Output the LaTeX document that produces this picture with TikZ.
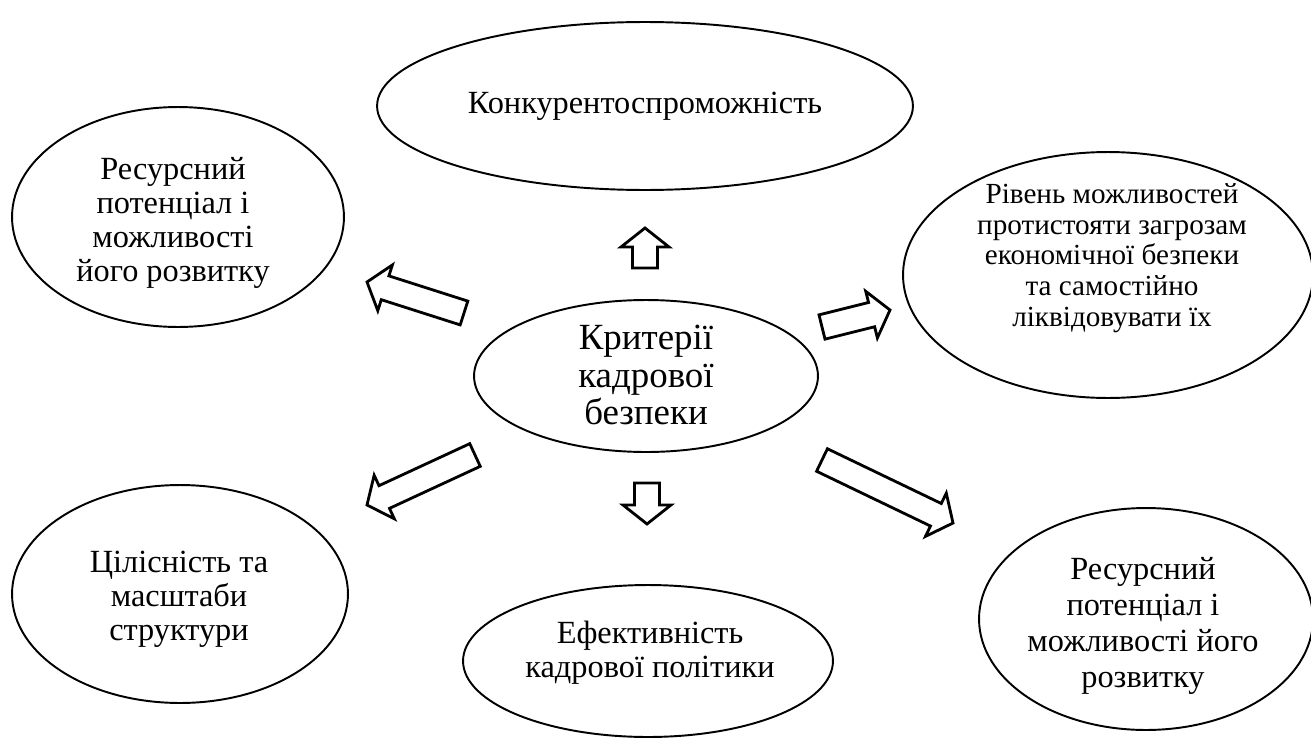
\documentclass[tikz,border=0pt]{standalone}
\usepackage{fontspec}
\setmainfont{Liberation Serif}
\usetikzlibrary{shapes.geometric,calc}

% Стилі
\tikzset{
  oval/.style={draw, ellipse, line width=1.1pt, inner sep=0pt},
  txt/.style={align=center, inner sep=0pt, font=\fontsize{18.4}{19.4}\selectfont},
  smalltxt/.style={align=center, inner sep=0pt, font=\fontsize{16.6}{17.5}\selectfont},
  bigtxt/.style={align=center, inner sep=0pt, font=\fontsize{21}{21.4}\selectfont},
  blok/.style={draw, line width=1.6pt, line join=miter, fill=white}
}

% Параметри стрілки
\def\sw{0.25cm}  % півширина стрижня
\def\hw{0.48cm}  % півширина вістря
\def\hl{0.38cm}  % довжина вістря

% Блокова стрілка: від (#1) до (#2)
\newcommand\blokstr[2]{%
  \coordinate (hb) at ($(#2)!\hl!(#1)$);
  \draw[blok] ($(#1)!\sw!90:(#2)$) -- ($(hb)!\sw!-90:(#1)$)
    -- ($(hb)!\hw!-90:(#1)$) -- (#2) -- ($(hb)!\hw!90:(#1)$)
    -- ($(hb)!\sw!90:(#1)$) -- ($(#1)!\sw!-90:(#2)$) -- cycle;}

\begin{document}
\begin{tikzpicture}[x=0.02cm, y=-0.02cm]

\useasboundingbox[fill=white] (0,0) rectangle (1311,737);

% Центр
\node[oval, minimum width=6.88cm, minimum height=3.04cm] (cen) at (646,376) {};
\node[bigtxt] (cen-t) at (646,375) {Критерії\\кадрової\\безпеки};

% Еліпси навколо
\node[oval, minimum width=10.72cm, minimum height=3.36cm] (kon) at (645,106) {};
\node[txt] (kon-t) at (645,106) {Конкурентоспроможність};

\node[oval, minimum width=6.64cm, minimum height=4.4cm] (res1) at (178,217) {};
\node[txt] (res1-t) at (173,223) {Ресурсний\\потенціал і\\можливості\\його розвитку};

\node[oval, minimum width=8.2cm, minimum height=4.92cm] (riv) at (1108,275) {};
\node[smalltxt] (riv-t) at (1112,258) {Рівень можливостей\\протистояти загрозам\\економічної безпеки\\та самостійно\\ліквідовувати їх};

\node[oval, minimum width=6.72cm, minimum height=4.36cm] (cil) at (180,594) {};
\node[txt] (cil-t) at (179,599) {Цілісність та\\масштаби\\структури};

\node[oval, minimum width=7.4cm, minimum height=3.04cm] (efe) at (648,661) {};
\node[txt] (efe-t) at (650,653) {Ефективність\\кадрової політики};

\node[oval, minimum width=6.68cm, minimum height=4.44cm] (res2) at (1146,619) {};
\node[txt, font=\fontsize{18.4}{20.4}\selectfont] (res2-t) at (1143,626) {Ресурсний\\потенціал і\\можливості його\\розвитку};

% Кінці стрілок
\coordinate (up-s) at (645,268);   \coordinate (up-e) at (645,228);
\coordinate (lu-s) at (464,313);   \coordinate (lu-e) at (367,282);
\coordinate (ru-s) at (822,327);   \coordinate (ru-e) at (890,310);
\coordinate (ld-s) at (475,455);   \coordinate (ld-e) at (367,505);
\coordinate (rd-s) at (822,460);   \coordinate (rd-e) at (953,523);
\coordinate (dn-s) at (647,483);   \coordinate (dn-e) at (647,524);

% Стрілки
\blokstr{up-s}{up-e}
\blokstr{lu-s}{lu-e}
\blokstr{ru-s}{ru-e}
\blokstr{ld-s}{ld-e}
\blokstr{rd-s}{rd-e}
\blokstr{dn-s}{dn-e}

\end{tikzpicture}
\end{document}
